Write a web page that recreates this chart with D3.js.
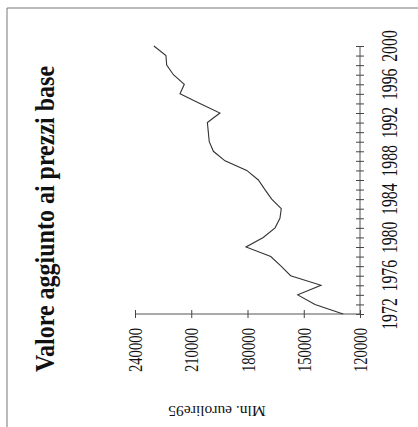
<!DOCTYPE html>
<html>
<head>
<meta charset="utf-8">
<script src="https://cdn.jsdelivr.net/npm/d3@7"></script>
<style>
  html, body { margin: 0; padding: 0; background: #fff; }
  svg { display: block; }
  text { font-family: "Liberation Serif", "Times New Roman", serif; fill: #111; }
</style>
</head>
<body>
<svg id="chart" width="418" height="427"></svg>
<script>
// ---- data ----
const years = [1972,1973,1974,1975,1976,1977,1978,1979,1980,1981,1982,1983,1984,1985,1986,
               1987,1988,1989,1990,1991,1992,1993,1994,1995,1996,1997,1998,1999,2000];
const values = [129000,144000,153200,140800,157000,162100,167600,180800,171600,165300,162700,162000,
                167100,170700,174200,180400,192000,198200,200400,200900,201400,194700,205400,
                216000,213700,219500,223100,223500,229900];
const yearTickLabels = [1972,1976,1980,1984,1988,1992,1996,2000];
const valueTicks = [120000,150000,180000,210000,240000];
const titleText = "Valore aggiunto ai prezzi base";
const unitText = "Mln. eurolire95";

const svg = d3.select("#chart");

// frame (top and left edges visible)
svg.append("line").attr("x1", 7).attr("x2", 418).attr("y1", 8).attr("y2", 8)
  .attr("stroke", "#777").attr("stroke-width", 1);
svg.append("line").attr("x1", 7).attr("x2", 7).attr("y1", 8).attr("y2", 427)
  .attr("stroke", "#777").attr("stroke-width", 1);

// rotated chart: years run bottom->top, values run right->left
const yScale = d3.scaleLinear().domain([1972, 2000]).range([314, 46]);
const xScale = d3.scaleLinear().domain([120000, 240000]).range([360, 135]);

// year axis (vertical)
const yAxis = d3.axisRight(yScale).tickValues(years).tickSize(4).tickFormat("");
const gy = svg.append("g").attr("transform", "translate(360,0)").call(yAxis);
gy.select(".domain").attr("stroke", "#555").attr("d", `M0,${yScale(1972)}V${yScale(2000)}`);
gy.selectAll(".tick line").attr("x1", -4).attr("x2", 4).attr("stroke", "#444");

// value axis (horizontal)
const xAxis = d3.axisBottom(xScale).tickValues(valueTicks).tickSize(4).tickFormat("");
const gx = svg.append("g").attr("transform", "translate(0,314)").call(xAxis);
gx.select(".domain").attr("stroke", "#555").attr("d", `M${xScale(240000)},0H${xScale(120000)}`);
gx.selectAll(".tick line").attr("y1", -4).attr("y2", 4).attr("stroke", "#444");

// year labels
svg.append("g").selectAll("text").data(yearTickLabels).join("text")
  .attr("transform", d => `translate(397,${yScale(d)}) scale(1.5,1) rotate(-90)`)
  .attr("text-anchor", "middle")
  .attr("font-size", 15.8)
  .text(d => d);

// value labels
svg.append("g").selectAll("text").data(valueTicks).join("text")
  .attr("transform", d => `translate(${xScale(d) + 7},328) scale(1.35,1) rotate(-90)`)
  .attr("text-anchor", "end")
  .attr("font-size", 14.7)
  .text(d => d);

// line
const line = d3.line().x(d => xScale(d[1])).y(d => yScale(d[0]));
svg.append("path")
  .datum(years.map((y, i) => [y, values[i]]))
  .attr("d", line)
  .attr("fill", "none")
  .attr("stroke", "#333")
  .attr("stroke-width", 1.1);

// title
svg.append("text")
  .attr("transform", "translate(54,219) scale(1.13,1) rotate(-90)")
  .attr("text-anchor", "middle")
  .attr("font-size", 24)
  .attr("font-weight", "bold")
  .text(titleText);

// unit label (upside down)
svg.append("text")
  .attr("transform", "translate(217,406) rotate(180)")
  .attr("text-anchor", "middle")
  .attr("font-size", 15.5)
  .text(unitText);
</script>
</body>
</html>
